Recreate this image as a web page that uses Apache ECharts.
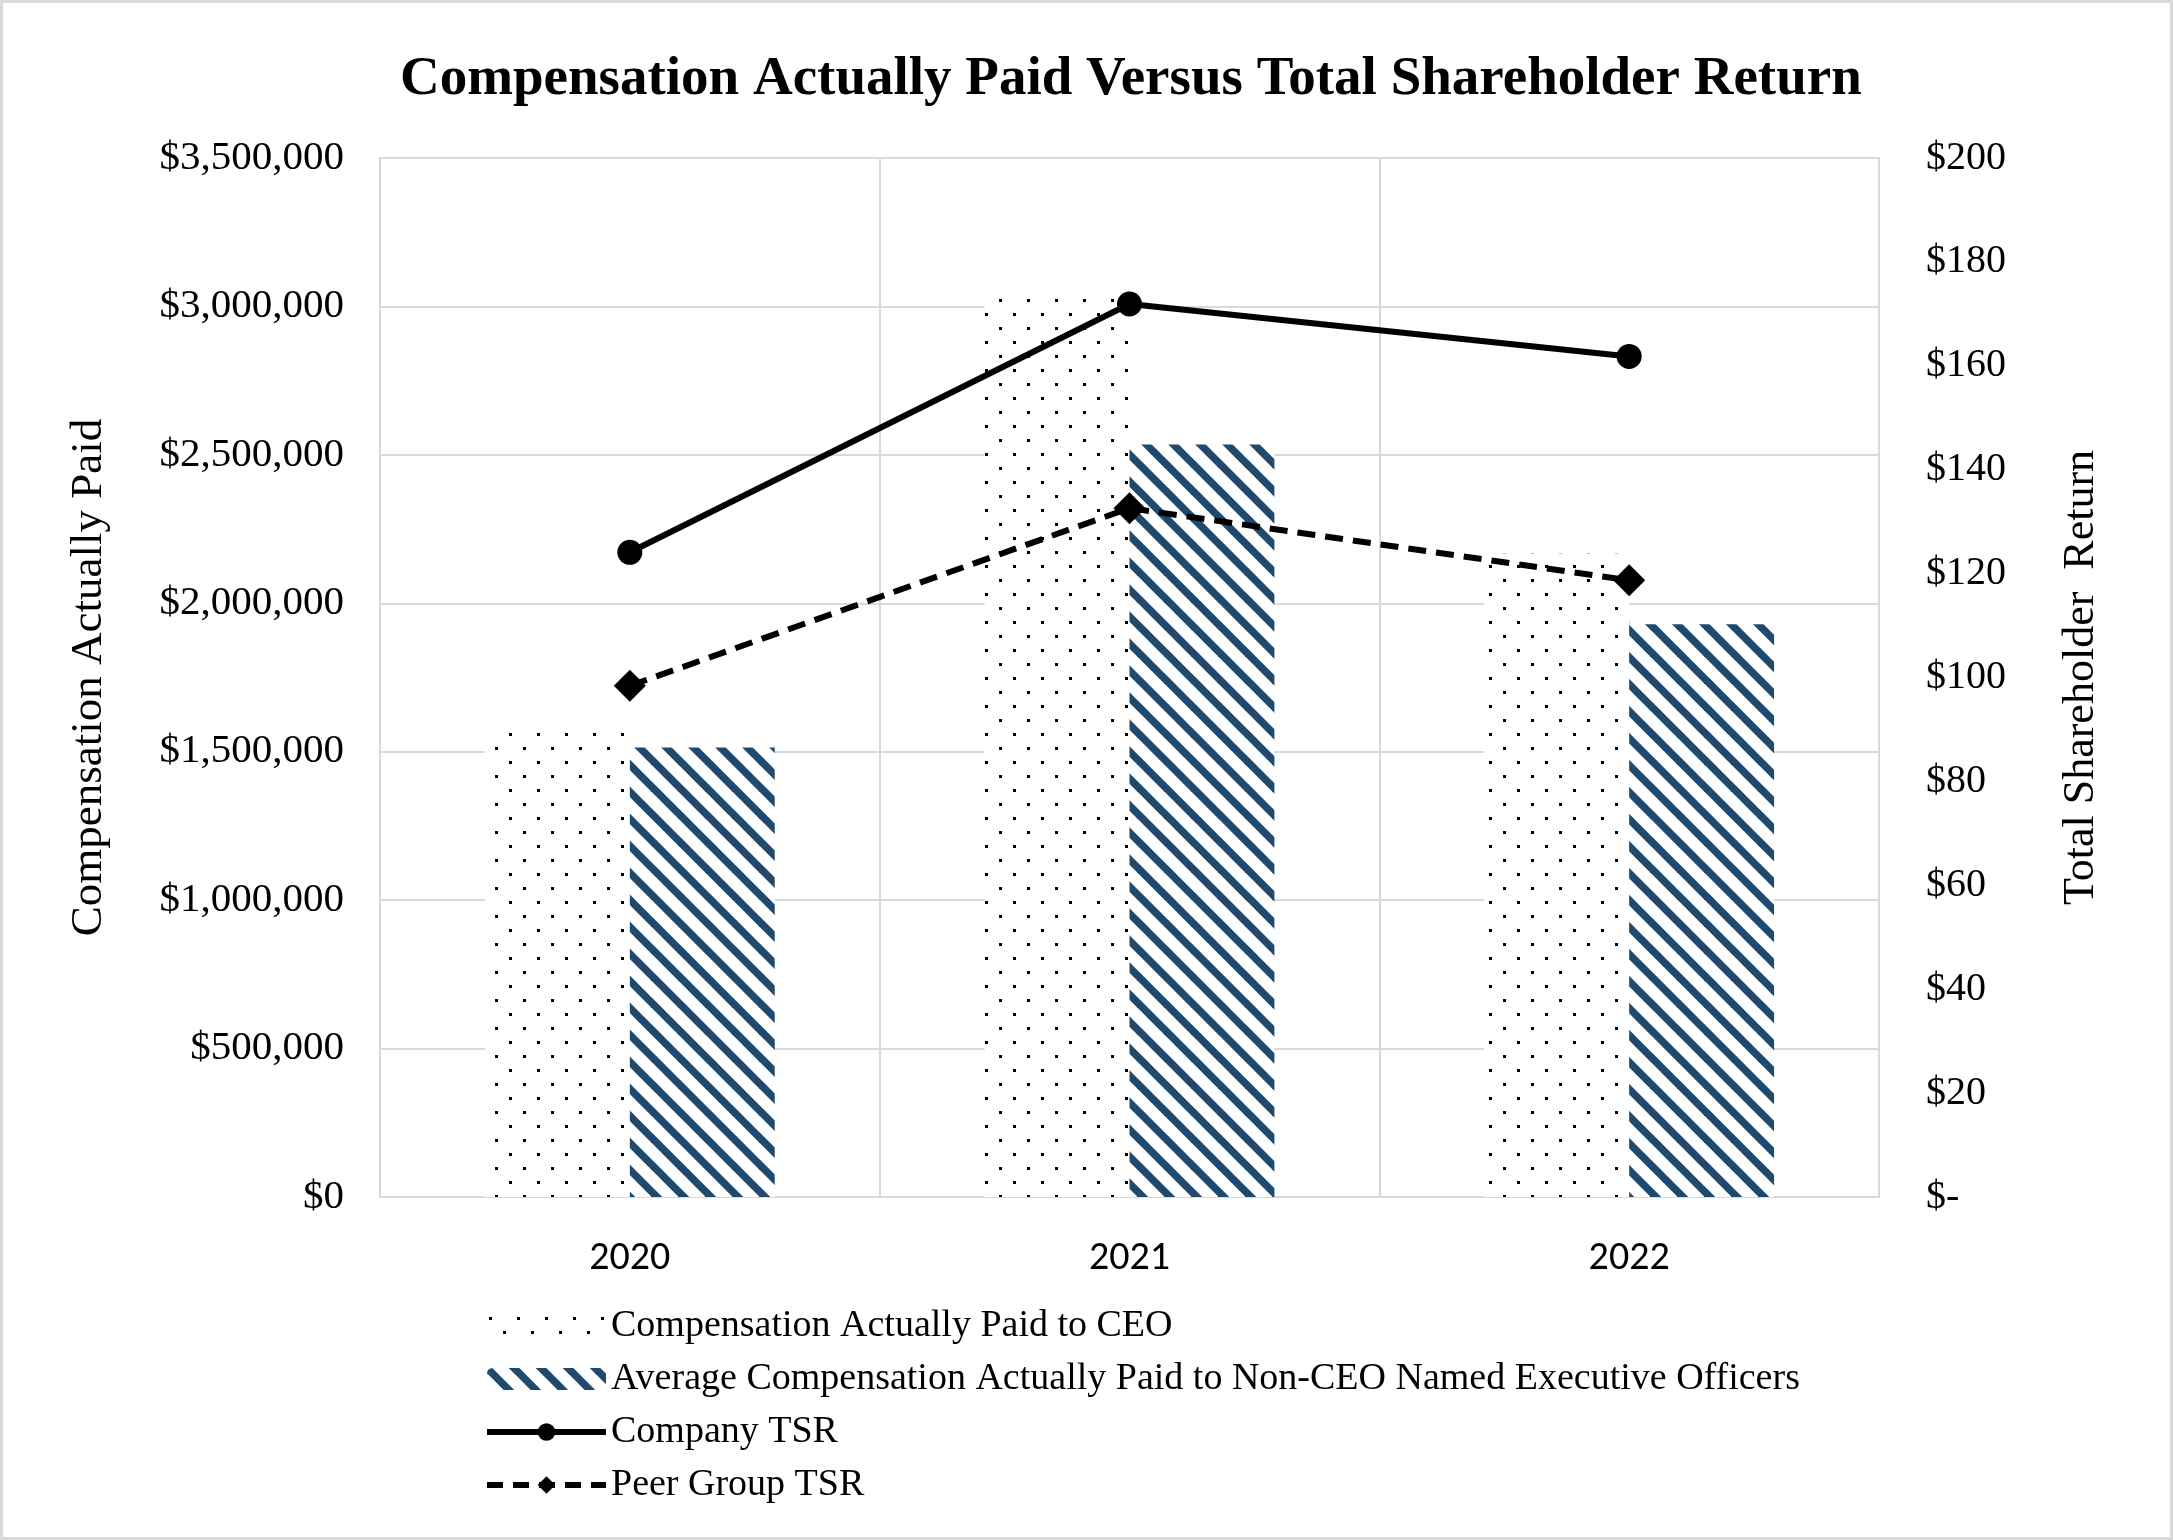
<!DOCTYPE html>
<html>
<head>
<meta charset="utf-8">
<script src="https://cdn.jsdelivr.net/npm/echarts@6/dist/echarts.min.js"></script>
<style>
  html, body { margin: 0; padding: 0; background: #fff; }
  #chart { width: 2173px; height: 1540px; box-sizing: border-box; border: 3px solid #d9d9d9; }
</style>
</head>
<body>
<div id="chart"></div>
<script>
// ---- data ----
var years = ['2020', '2021', '2022'];
var ceoPay = [1571000, 3045000, 2167000];
var neoPay = [1514000, 2535000, 1929000];
var companyTSR = [124.1, 171.9, 161.8];
var peerTSR = [98.4, 132.6, 118.7];
var leftTicks = { min: 0, max: 3500000, interval: 500000 };
var rightTicks = { min: 0, max: 200, interval: 20 };
var seriesNames = [
  'Compensation Actually Paid to CEO',
  'Average Compensation Actually Paid to Non-CEO Named Executive Officers',
  'Company TSR',
  'Peer Group TSR'
];

// ---- patterns ----
function dotPattern() {
  var c = document.createElement('canvas');
  c.width = 28; c.height = 28;
  var g = c.getContext('2d');
  g.fillStyle = '#ffffff'; g.fillRect(0, 0, 28, 28);
  g.fillStyle = '#000000';
  g.fillRect(2, 2, 3, 3);
  g.fillRect(16, 16, 3, 3);
  return c;
}
function stripePattern() {
  var s = 27;
  var c = document.createElement('canvas');
  c.width = s; c.height = s;
  var g = c.getContext('2d');
  g.fillStyle = '#ffffff'; g.fillRect(0, 0, s, s);
  g.strokeStyle = '#1f4a6e';
  g.lineWidth = 7.5;
  g.lineCap = 'square';
  for (var k = -1; k <= 1; k++) {
    g.beginPath();
    g.moveTo(k * s, 0);
    g.lineTo(k * s + s, s);
    g.stroke();
  }
  return c;
}

var serif = '"Liberation Serif", "Times New Roman", serif';
var sans = 'Carlito, Lato, "Noto Sans", sans-serif';

function money(v) {
  return '$' + String(v).replace(/\B(?=(\d{3})+(?!\d))/g, ',');
}

var chart = echarts.init(document.getElementById('chart'), null, { renderer: 'canvas' });
chart.setOption({
  animation: false,
  backgroundColor: '#ffffff',
  title: {
    text: 'Compensation Actually Paid Versus Total Shareholder Return',
    left: 392,
    top: 44,
    textStyle: { fontFamily: serif, fontWeight: 'bold', fontSize: 55, color: '#000' }
  },
  grid: { left: 377, right: 291, top: 155, bottom: 340, containLabel: false },
  legend: {
    orient: 'vertical',
    left: 476,
    top: 1299,
    itemWidth: 119,
    itemHeight: 22,
    itemGap: 15,
    data: [
      { name: seriesNames[0] },
      { name: seriesNames[1] },
      { name: seriesNames[2], lineStyle: { width: 6 } },
      { name: seriesNames[3], lineStyle: { width: 6, type: [16, 10] } }
    ],
    textStyle: { fontFamily: serif, fontSize: 38, color: '#000' },
    selectedMode: false
  },
  xAxis: {
    type: 'category',
    data: years,
    axisLine: { show: true, lineStyle: { color: '#d9d9d9', width: 2 } },
    axisTick: { show: false },
    axisLabel: { fontFamily: sans, fontSize: 40, color: '#000', margin: 42 },
    splitLine: { show: true, lineStyle: { color: '#d9d9d9', width: 2 } }
  },
  yAxis: [
    {
      type: 'value',
      min: leftTicks.min, max: leftTicks.max, interval: leftTicks.interval,
      name: 'Compensation Actually Paid',
      nameLocation: 'middle',
      nameGap: 268,
      nameTextStyle: { fontFamily: serif, fontSize: 45, color: '#000' },
      axisLine: { show: true, lineStyle: { color: '#d9d9d9', width: 2 } },
      axisTick: { show: false },
      axisLabel: { fontFamily: serif, fontSize: 41, color: '#000', margin: 36, formatter: money },
      splitLine: { show: true, lineStyle: { color: '#d9d9d9', width: 2 } }
    },
    {
      type: 'value',
      min: rightTicks.min, max: rightTicks.max, interval: rightTicks.interval,
      name: 'Total Shareholder  Return',
      nameLocation: 'middle',
      nameGap: 180,
      nameRotate: 90,
      nameTextStyle: { fontFamily: serif, fontSize: 44, color: '#000' },
      axisLine: { show: true, lineStyle: { color: '#d9d9d9', width: 2 } },
      axisTick: { show: false },
      axisLabel: {
        fontFamily: serif, fontSize: 40, color: '#000', margin: 47,
        formatter: function (v) { return v === 0 ? '$-' : '$' + v; }
      },
      splitLine: { show: false }
    }
  ],
  series: [
    {
      name: seriesNames[0],
      type: 'bar',
      data: ceoPay,
      barGap: '0%',
      barCategoryGap: '42%',
      itemStyle: { color: { image: dotPattern(), repeat: 'repeat' } }
    },
    {
      name: seriesNames[1],
      type: 'bar',
      data: neoPay,
      barGap: '0%',
      barCategoryGap: '42%',
      itemStyle: { color: { image: stripePattern(), repeat: 'repeat' } }
    },
    {
      name: seriesNames[2],
      type: 'line',
      yAxisIndex: 1,
      data: companyTSR,
      symbol: 'circle',
      symbolSize: 25,
      lineStyle: { color: '#000', width: 6 },
      itemStyle: { color: '#000' },
      z: 5
    },
    {
      name: seriesNames[3],
      type: 'line',
      yAxisIndex: 1,
      data: peerTSR,
      symbol: 'diamond',
      symbolSize: 32,
      lineStyle: { color: '#000', width: 6, type: [18, 10] },
      itemStyle: { color: '#000' },
      z: 5
    }
  ]
});
</script>
</body>
</html>
